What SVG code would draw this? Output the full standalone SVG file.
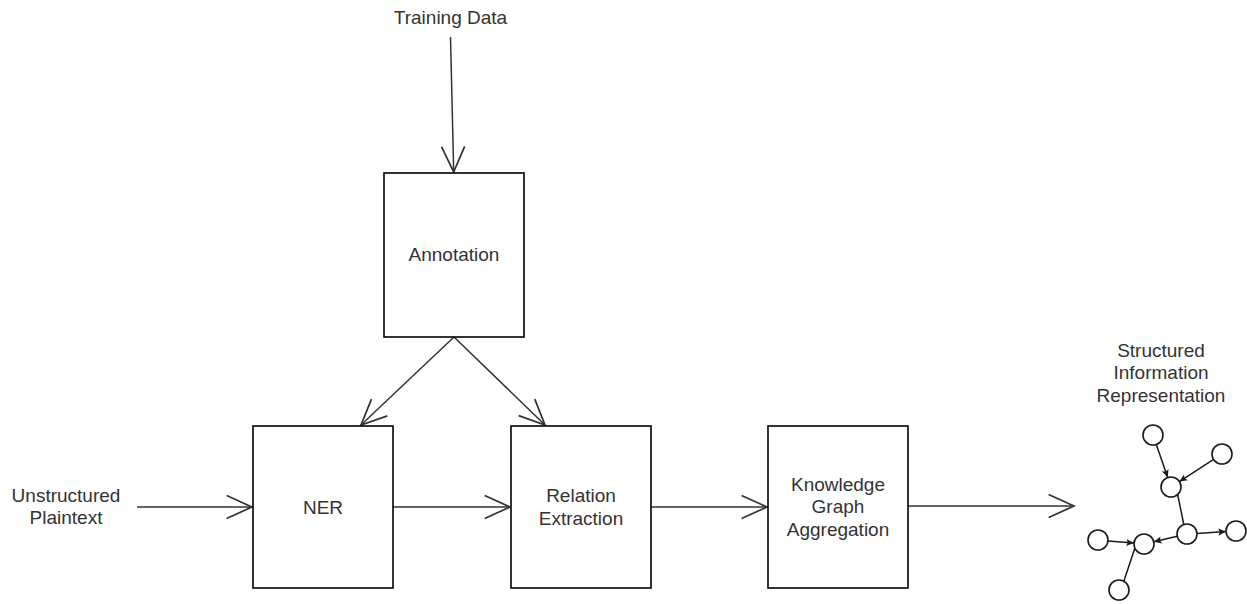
<svg xmlns="http://www.w3.org/2000/svg" width="1247" height="604" viewBox="0 0 1247 604">
  <style>
    .box { fill: #ffffff; stroke: #000000; stroke-width: 1.6; }
    .lbl { font-family: "Liberation Sans", Arial, sans-serif; font-size: 19px; fill: #333333; text-anchor: middle; }
    .flow { fill: none; stroke: #333333; stroke-width: 1.5; marker-end: url(#open); }
    .gnode { fill: #ffffff; stroke: #1a1a1a; stroke-width: 1.6; }
    .gedge { fill: none; stroke: #1a1a1a; stroke-width: 1.5; marker-end: url(#small); }
  </style>
  <defs>
    <marker id="open" markerUnits="userSpaceOnUse" markerWidth="30" markerHeight="30" viewBox="-24 -12 26 24" refX="0" refY="0" orient="auto">
      <path d="M-22,-10 L0,0 L-22,10" fill="none" stroke="#333333" stroke-width="1.5"/>
    </marker>
    <marker id="small" markerUnits="userSpaceOnUse" markerWidth="10" markerHeight="10" viewBox="-8 -4 9 8" refX="0" refY="0" orient="auto">
      <path d="M-7,-3.2 L0,0 L-7,3.2 L-5.5,0 Z" fill="#1a1a1a"/>
    </marker>
  </defs>

  <rect width="1247" height="604" fill="#ffffff"/>

  <!-- connectors -->
  <g id="connectors">
    <line class="flow" x1="450.5" y1="37" x2="453.7" y2="172"/>
    <line class="flow" x1="454" y1="337" x2="361" y2="425"/>
    <line class="flow" x1="454" y1="337" x2="545" y2="425"/>
    <line class="flow" x1="137" y1="507" x2="252" y2="507"/>
    <line class="flow" x1="393" y1="507" x2="510" y2="507"/>
    <line class="flow" x1="651" y1="507" x2="767" y2="507"/>
    <line class="flow" x1="908" y1="506" x2="1074" y2="506"/>
  </g>

  <!-- free labels -->
  <g id="training-data">
    <text class="lbl" x="450.5" y="24">Training Data</text>
  </g>
  <g id="unstructured-plaintext">
    <text class="lbl" x="66" y="502">Unstructured</text>
    <text class="lbl" x="66" y="524">Plaintext</text>
  </g>

  <!-- process boxes -->
  <g id="annotation">
    <rect class="box" x="384" y="173" width="140" height="164"/>
    <text class="lbl" x="454" y="261">Annotation</text>
  </g>
  <g id="ner">
    <rect class="box" x="253" y="426" width="140" height="162"/>
    <text class="lbl" x="323" y="514">NER</text>
  </g>
  <g id="relation-extraction">
    <rect class="box" x="511" y="426" width="140" height="162"/>
    <text class="lbl" x="581" y="502">Relation</text>
    <text class="lbl" x="581" y="525">Extraction</text>
  </g>
  <g id="kg-aggregation">
    <rect class="box" x="768" y="426" width="140" height="162"/>
    <text class="lbl" x="838" y="491">Knowledge</text>
    <text class="lbl" x="838" y="513">Graph</text>
    <text class="lbl" x="838" y="536">Aggregation</text>
  </g>

  <!-- output: small knowledge graph -->
  <g id="structured-information">
    <text class="lbl" x="1161" y="357">Structured</text>
    <text class="lbl" x="1161" y="379">Information</text>
    <text class="lbl" x="1161" y="402">Representation</text>
    <g id="graph-edges">
      <line class="gedge" x1="1156.3" y1="444.5" x2="1167.7" y2="477.5"/>
      <line class="gedge" x1="1213.6" y1="459.4" x2="1179.4" y2="481.6"/>
      <line class="gedge" x1="1183.8" y1="524.5" x2="1174.2" y2="477.5"/>
      <line class="gedge" x1="1197" y1="533.4" x2="1226" y2="531.6"/>
      <line class="gedge" x1="1177.2" y1="536.3" x2="1153.8" y2="541.7"/>
      <line class="gedge" x1="1108" y1="540.9" x2="1134" y2="543.1"/>
      <line class="gedge" x1="1123.8" y1="581.2" x2="1139.2" y2="535.2"/>
    </g>
    <g id="graph-nodes">
      <circle class="gnode" cx="1153" cy="435" r="10"/>
      <circle class="gnode" cx="1222" cy="454" r="10"/>
      <circle class="gnode" cx="1171" cy="487" r="10"/>
      <circle class="gnode" cx="1187" cy="534" r="10"/>
      <circle class="gnode" cx="1236" cy="531" r="10"/>
      <circle class="gnode" cx="1098" cy="540" r="10"/>
      <circle class="gnode" cx="1144" cy="544" r="10"/>
      <circle class="gnode" cx="1119" cy="590" r="10"/>
    </g>
  </g>
</svg>
